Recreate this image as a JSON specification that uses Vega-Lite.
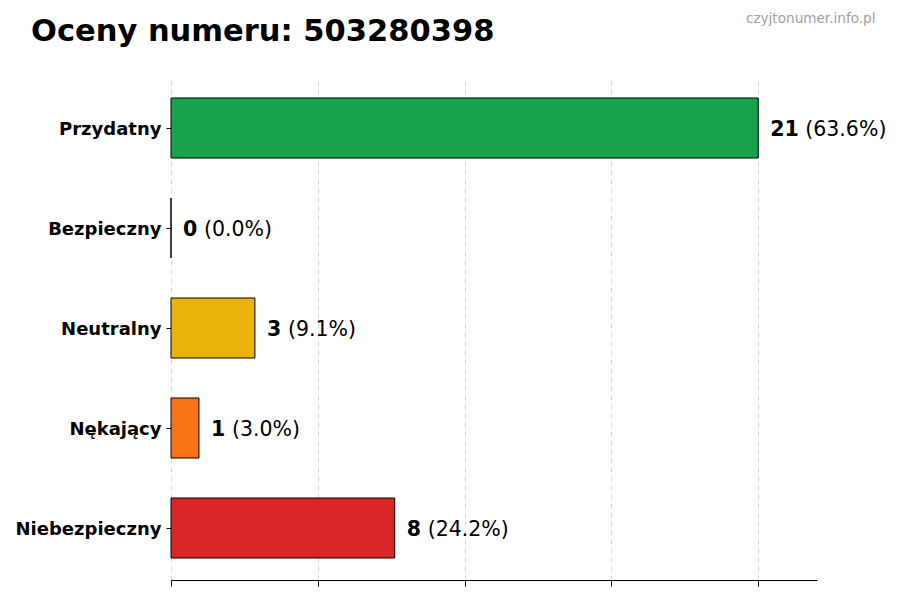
{
  "$schema": "https://vega.github.io/schema/vega-lite/v6.json",
  "width": 646,
  "height": 504,
  "autosize": {"type": "none"},
  "padding": {"left": 171, "top": 76, "right": 83, "bottom": 20},
  "background": "white",
  "config": {"view": {"stroke": null}, "font": "DejaVu Sans"},
  "title": {
    "text": "Oceny numeru: 503280398",
    "anchor": "start",
    "frame": "group",
    "dx": -140,
    "offset": 0,
    "dy": 60,
    "baseline": "alphabetic",
    "font": "DejaVu Sans",
    "fontSize": 30.5,
    "fontWeight": "bold",
    "color": "black"
  },
  "data": {
    "values": [
      {"kategoria": "Przydatny", "liczba": 21, "procent": "63.6%", "kolor": "#16a34a"},
      {"kategoria": "Bezpieczny", "liczba": 0, "procent": "0.0%", "kolor": "#2563eb"},
      {"kategoria": "Neutralny", "liczba": 3, "procent": "9.1%", "kolor": "#eab308"},
      {"kategoria": "Nękający", "liczba": 1, "procent": "3.0%", "kolor": "#f97316"},
      {"kategoria": "Niebezpieczny", "liczba": 8, "procent": "24.2%", "kolor": "#dc2626"}
    ]
  },
  "transform": [
    {"calculate": "'(' + datum.procent + ')'", "as": "etykieta"}
  ],
  "encoding": {
    "y": {
      "field": "kategoria",
      "type": "nominal",
      "sort": null,
      "scale": {"paddingInner": 0.4, "paddingOuter": 0.22},
      "axis": {
        "title": null,
        "domain": false,
        "ticks": true,
        "tickColor": "black",
        "tickSize": 5,
        "labelPadding": 5,
        "labelOffset": 2,
        "labelFont": "DejaVu Sans",
        "labelFontSize": 18,
        "labelFontWeight": "bold",
        "labelColor": "black",
        "grid": false
      }
    }
  },
  "layer": [
    {
      "mark": {"type": "bar", "stroke": "black", "strokeWidth": 1},
      "encoding": {
        "x": {
          "field": "liczba",
          "type": "quantitative",
          "scale": {"domain": [0, 23.1], "nice": false, "zero": true},
          "axis": {
            "title": null,
            "orient": "bottom",
            "values": [0, 5.25, 10.5, 15.75, 21],
            "labels": false,
            "ticks": true,
            "tickSize": 6,
            "tickColor": "black",
            "domain": true,
            "domainColor": "black",
            "domainWidth": 1,
            "grid": true,
            "gridColor": "#cccccc",
            "gridDash": [5, 4],
            "gridWidth": 0.8,
            "offset": 0
          }
        },
        "fill": {"field": "kolor", "type": "nominal", "scale": null}
      }
    },
    {
      "mark": {"type": "text", "align": "left", "baseline": "middle", "dx": 12, "dy": 2, "fontSize": 20.5, "fontWeight": "bold", "font": "DejaVu Sans", "color": "black"},
      "encoding": {
        "x": {
          "field": "liczba",
          "type": "quantitative",
          "axis": {
            "orient": "top",
            "title": "czyjtonumer.info.pl",
            "titleFont": "DejaVu Sans",
            "titleFontSize": 13.6,
            "titleFontWeight": "normal",
            "titleColor": "#a0a0a0",
            "titleAnchor": "end",
            "titleAlign": "right",
            "titleBaseline": "alphabetic",
            "titleX": 704,
            "titleY": -54,
            "labels": false,
            "ticks": false,
            "domain": false,
            "grid": false
          }
        },
        "text": {"field": "liczba", "type": "quantitative"}
      }
    },
    {
      "mark": {"type": "text", "align": "left", "baseline": "middle", "dx": {"expr": "datum.liczba >= 10 ? 47 : 33"}, "dy": 2, "fontSize": 20.5, "fontWeight": "normal", "font": "DejaVu Sans", "color": "black"},
      "encoding": {
        "x": {"field": "liczba", "type": "quantitative", "axis": null},
        "text": {"field": "etykieta", "type": "nominal"}
      }
    }
  ],
  "resolve": {"axis": {"x": "independent"}}
}
